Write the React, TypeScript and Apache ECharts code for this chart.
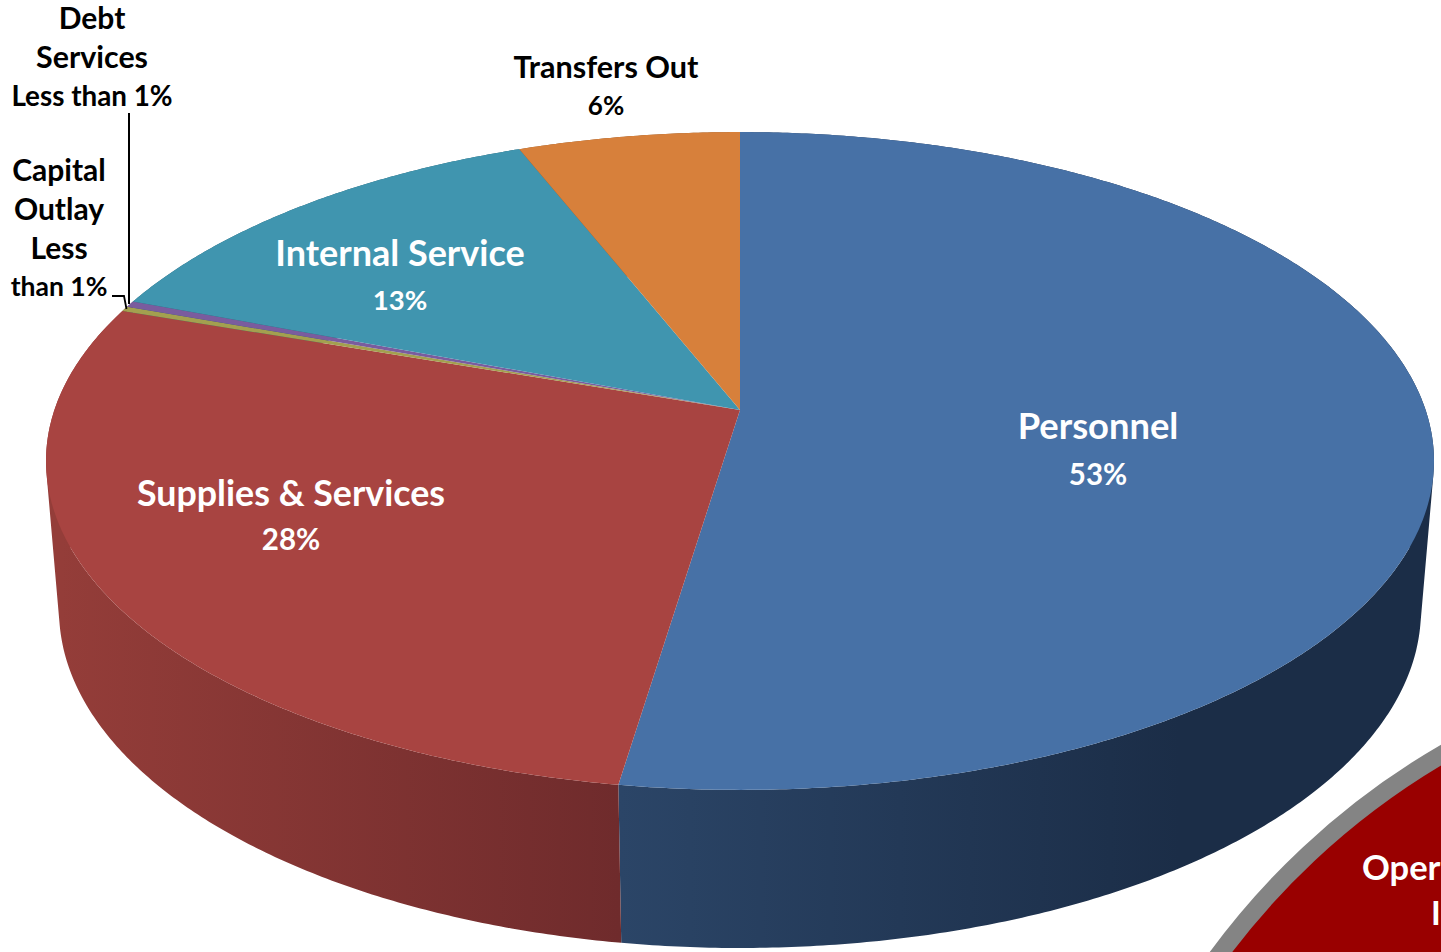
import React, { useEffect, useRef } from "react";
import * as echarts from "echarts";

const categories = ["Personnel", "Supplies & Services", "Capital Outlay", "Debt Services", "Internal Service", "Transfers Out"];
const values = [52.4, 27.85, 0.25, 0.3, 13.2, 6.0];
const valueLabels = ["53%", "28%", "Less than 1%", "Less than 1%", "13%", "6%"];
const topColors = ["#4771A6", "#A84441", "#A3A04F", "#7A5C9E", "#4095AF", "#D7803B"];
const wallStops = [
  ["#2B4567", "#1B2D47"],
  ["#943D39", "#6F2B2C"],
  ["#6F2B2C", "#6F2B2C"],
  ["#4A3760", "#4A3760"],
  ["#2A5F70", "#2A5F70"],
  ["#8A5226", "#8A5226"],
];
const wallRanges = [[620, 1180], [60, 620], [60, 620], [60, 620], [60, 620], [60, 620]];

// layout of each label, by category index: one [text, font size] per line
const labelLayout: { lines: [string, number][]; x: number; y: number; lh: number; color: string }[] = [
  { lines: [["Personnel", 36.3], [valueLabels[0], 29.5]], x: 1098, y: 449.5, lh: 48.5, color: "#fff" },
  { lines: [["Supplies & Services", 35.8], [valueLabels[1], 29.5]], x: 291, y: 515, lh: 46, color: "#fff" },
  { lines: [["Capital", 30], ["Outlay", 30], ["Less", 30], ["than 1%", 26.5]], x: 59, y: 227, lh: 39, color: "#000" },
  { lines: [["Debt", 30], ["Services", 30.4], [valueLabels[3], 27.8]], x: 92, y: 56, lh: 39, color: "#000" },
  { lines: [["Internal Service", 36], [valueLabels[4], 27.5]], x: 400, y: 275.5, lh: 47, color: "#fff" },
  { lines: [["Transfers Out", 30.6], [valueLabels[5], 26]], x: 606, y: 85.5, lh: 39, color: "#000" },
];

const FONT = "Lato";

// Perspective projection of a disc: t is the angle in radians, clockwise from the top
const topDisc = { cx: 740, cy: 410, a: 685.6, b: 321, k: -0.155 };
const baseDisc = { cx: 740, cy: 559.3, a: 673.3, b: 330.4, k: -0.15 };
const project = (d: typeof topDisc, t: number) => {
  const u = Math.sin(t);
  const v = -Math.cos(t);
  const w = 1 + d.k * v;
  return [d.cx + (d.a * u) / w, d.cy + (d.b * v) / w];
};

const total = values.reduce((s, v) => s + v, 0);
const spans: number[][] = [];
values.reduce((acc, v) => {
  spans.push([acc, acc + v]);
  return acc + v;
}, 0);

const arc = (d: typeof topDisc, from: number, to: number) => {
  const a0 = (from / total) * Math.PI * 2;
  const a1 = (to / total) * Math.PI * 2;
  const n = Math.max(2, Math.ceil(Math.abs(a1 - a0) / 0.008));
  const pts: number[][] = [];
  for (let i = 0; i <= n; i++) pts.push(project(d, a0 + ((a1 - a0) * i) / n));
  return pts;
};

// The side wall as one path: a quad per arc step, all wound the same way
const wallPath = (from: number, to: number) => {
  const t = arc(topDisc, from, to);
  const b = arc(baseDisc, from, to);
  let d = "";
  for (let i = 0; i < t.length - 1; i++) {
    let q = [t[i], t[i + 1], b[i + 1], b[i]];
    let area = 0;
    for (let j = 0; j < 4; j++) {
      const p = q[j];
      const r = q[(j + 1) % 4];
      area += p[0] * r[1] - r[0] * p[1];
    }
    if (area < 0) q = q.slice().reverse();
    d += "M" + q.map((p) => `${p[0].toFixed(2)} ${p[1].toFixed(2)}`).join("L") + "Z";
  }
  return d;
};

export default function App() {
  const ref = useRef<HTMLDivElement>(null);
  useEffect(() => {
    document.body.style.margin = "0";
    document.documentElement.style.overflow = "hidden";
    const chart = echarts.init(ref.current!, null, { renderer: "svg" });
    const data = spans.map((s) => ({ value: s }));
    chart.setOption({
      animation: false,
      backgroundColor: "#fff",
      graphic: [
        {
          type: "circle",
          z: 1,
          silent: true,
          shape: { cx: 1820, cy: 1400, r: 748 },
          style: { fill: "#990000", stroke: "#848484", lineWidth: 18 },
        },
        {
          type: "text",
          z: 2,
          x: 1362,
          y: 866,
          style: { text: "Oper", fill: "#fff", font: `700 34.5px ${FONT}`, textVerticalAlign: "middle" },
        },
        {
          type: "text",
          z: 2,
          x: 1431,
          y: 912,
          style: { text: "I", fill: "#fff", font: `700 33px ${FONT}`, textVerticalAlign: "middle" },
        },
        {
          type: "polyline",
          z: 20,
          silent: true,
          shape: { points: [[129, 113], [129, 304]] },
          style: { stroke: "#000", lineWidth: 2, fill: "none" },
        },
        {
          type: "polyline",
          z: 20,
          silent: true,
          shape: { points: [[112, 296], [124, 296], [126.5, 309]] },
          style: { stroke: "#000", lineWidth: 1.8, fill: "none" },
        },
      ],
      series: [
        {
          type: "custom",
          name: "side",
          coordinateSystem: "none",
          silent: true,
          z: 3,
          data,
          renderItem: (params: any, api: any) => {
            const i = params.dataIndex;
            const [x0, x1] = wallRanges[i];
            const fill = new echarts.graphic.LinearGradient(
              x0, 0, x1, 0,
              [
                { offset: 0, color: wallStops[i][0] },
                { offset: 1, color: wallStops[i][1] },
              ],
              true
            );
            return { type: "path", shape: { pathData: wallPath(api.value(0), api.value(1)) }, style: { fill } };
          },
        },
        {
          type: "custom",
          name: "top",
          coordinateSystem: "none",
          silent: true,
          z: 4,
          data,
          renderItem: (params: any, api: any) => {
            const i = params.dataIndex;
            const pts = [[topDisc.cx, topDisc.cy], ...arc(topDisc, api.value(0), api.value(1))];
            return { type: "polygon", shape: { points: pts }, style: { fill: topColors[i] } };
          },
        },
        {
          type: "custom",
          name: "labels",
          coordinateSystem: "none",
          silent: true,
          z: 10,
          data: categories.map((c, i) => ({ name: c, value: values[i] })),
          renderItem: (params: any) => {
            const l = labelLayout[params.dataIndex];
            const rich: any = {};
            l.lines.forEach(([, size], j) => {
              rich["l" + j] = { fontFamily: FONT, fontWeight: 700, fontSize: size, lineHeight: l.lh, fill: l.color, color: l.color };
            });
            return {
              type: "text",
              x: l.x,
              y: l.y,
              style: {
                text: l.lines.map(([t], j) => `{l${j}|${t}}`).join("\n"),
                rich,
                fill: l.color,
                align: "center",
                verticalAlign: "middle",
              },
            };
          },
        },
      ],
    });
    return () => chart.dispose();
  }, []);
  return <div ref={ref} style={{ width: 1441, height: 952, overflow: "hidden" }} />;
}
